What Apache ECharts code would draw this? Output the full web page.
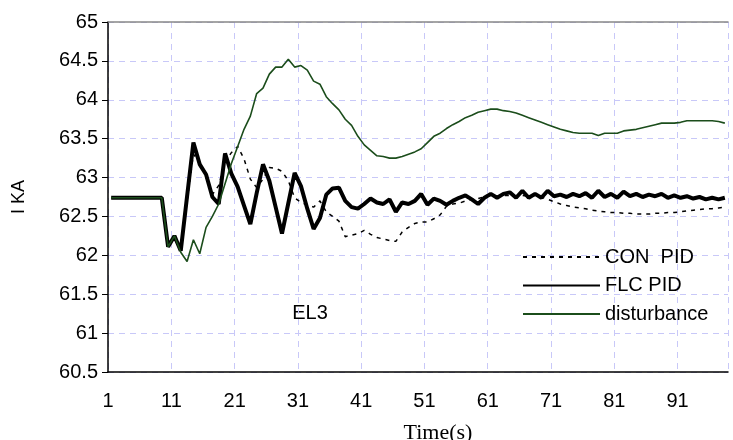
<!DOCTYPE html>
<html>
<head>
<meta charset="utf-8">
<script src="https://cdn.jsdelivr.net/npm/echarts@6/dist/echarts.min.js"></script>
<style>
  html, body { margin: 0; padding: 0; background: #fff; }
  #main { width: 733px; height: 440px; }
</style>
</head>
<body>
<div id="main"></div>
<script>
// time steps 1..98
var categories = [];
for (var t = 1; t <= 98; t++) categories.push(String(t));

var conPid = [
  62.74, 62.74, 62.74, 62.74, 62.74, 62.74, 62.74, 62.74, 62.74, 62.11,
  62.25, 62.06, 62.70, 63.30, 63.20, 63.00, 62.78, 62.90, 63.20, 63.32,
  63.40, 63.24, 62.98, 62.87, 62.98, 63.13, 63.12, 63.08, 62.96, 62.74,
  62.68, 62.65, 62.62, 62.70, 62.56, 62.50, 62.44, 62.24, 62.26, 62.28,
  62.32, 62.27, 62.23, 62.21, 62.19, 62.18, 62.30, 62.36, 62.41, 62.43,
  62.43, 62.47, 62.52, 62.63, 62.66, 62.67, 62.70, 62.72, 62.73, 62.75,
  62.77, 62.76, 62.77, 62.77, 62.76, 62.77, 62.76, 62.77, 62.75, 62.72,
  62.69, 62.66, 62.64, 62.62, 62.61, 62.60, 62.58, 62.57, 62.56, 62.55,
  62.55, 62.54, 62.54, 62.53, 62.53, 62.53, 62.54, 62.54, 62.55, 62.55,
  62.56, 62.57, 62.58, 62.59, 62.60, 62.60, 62.61, 62.62
];

var flcPid = [
  62.74, 62.74, 62.74, 62.74, 62.74, 62.74, 62.74, 62.74, 62.74, 62.11,
  62.25, 62.06, 62.76, 63.45, 63.17, 63.04, 62.75, 62.66, 63.31, 63.05,
  62.88, 62.64, 62.40, 62.80, 63.17, 62.96, 62.62, 62.28, 62.67, 63.06,
  62.89, 62.60, 62.34, 62.48, 62.78, 62.86, 62.87, 62.70, 62.62, 62.60,
  62.66, 62.73, 62.68, 62.66, 62.72, 62.56, 62.68, 62.66, 62.70, 62.79,
  62.65, 62.73, 62.70, 62.65, 62.70, 62.74, 62.77, 62.72, 62.66, 62.74,
  62.79, 62.74, 62.79, 62.81, 62.74, 62.83, 62.74, 62.79, 62.74, 62.83,
  62.76, 62.78, 62.75, 62.79, 62.76, 62.80, 62.74, 62.83, 62.75, 62.79,
  62.74, 62.82, 62.76, 62.79, 62.75, 62.78, 62.76, 62.79, 62.74, 62.77,
  62.74, 62.76, 62.73, 62.75, 62.72, 62.74, 62.72, 62.74
];

var disturbance = [
  62.74, 62.74, 62.74, 62.74, 62.74, 62.74, 62.74, 62.74, 62.74, 62.11,
  62.25, 62.04, 61.92, 62.20, 62.02, 62.36, 62.50, 62.66, 62.92, 63.18,
  63.40, 63.62, 63.79, 64.08, 64.15, 64.33, 64.42, 64.42, 64.52, 64.42,
  64.44, 64.38, 64.24, 64.20, 64.04, 63.95, 63.87, 63.75, 63.67, 63.53,
  63.42, 63.35, 63.28, 63.27, 63.25, 63.25, 63.27, 63.30, 63.33, 63.37,
  63.45, 63.53, 63.57, 63.63, 63.68, 63.72, 63.77, 63.80, 63.84, 63.86,
  63.88, 63.88, 63.86, 63.85, 63.83, 63.80, 63.77, 63.74, 63.71, 63.68,
  63.65, 63.62, 63.60, 63.58, 63.57, 63.57, 63.57, 63.54, 63.57, 63.57,
  63.57, 63.60, 63.61, 63.62, 63.64, 63.66, 63.68, 63.70, 63.70, 63.70,
  63.71, 63.73, 63.73, 63.73, 63.73, 63.73, 63.72, 63.70
];

var myChart = echarts.init(document.getElementById('main'), null, { renderer: 'canvas' });

var font = 'Liberation Sans, Arial, sans-serif';
var gridDash = { color: '#c8c8f8', width: 1, type: [6, 5] };

var option = {
  animation: false,
  backgroundColor: '#fff',
  textStyle: { fontFamily: font },
  grid: { left: 108, top: 22, right: 5, bottom: 68, outerBoundsMode: 'none' },
  legend: {
    orient: 'vertical',
    left: 517,
    top: 242,
    itemWidth: 77,
    itemHeight: 20,
    itemGap: 8.5,
    itemStyle: { opacity: 0 },
    textStyle: { fontSize: 20, color: '#000', fontFamily: font },
    data: ['CON  PID', 'FLC PID', 'disturbance']
  },
  xAxis: [
    {
      type: 'category',
      data: categories,
      boundaryGap: true,
      name: 'Time(s)',
      nameLocation: 'middle',
      nameGap: 50,
      nameTextStyle: {
        fontFamily: 'Liberation Serif, Times New Roman, serif',
        fontSize: 22,
        color: '#000',
        padding: [0, 0, 0, 40]
      },
      axisLine: { lineStyle: { color: '#000', width: 1.5 } },
      axisTick: { interval: 9, length: 6, lineStyle: { color: '#000' } },
      axisLabel: { interval: 9, fontSize: 20, color: '#000', margin: 19, padding: [0, 6, 0, 0] },
      splitLine: { show: true, interval: 9, lineStyle: gridDash }
    },
    {
      type: 'category',
      data: categories,
      position: 'top',
      axisLine: { lineStyle: { color: '#888', width: 1.5 } },
      axisTick: { show: false },
      axisLabel: { show: false },
      splitLine: { show: false }
    }
  ],
  yAxis: {
    type: 'value',
    min: 60.5,
    max: 65,
    interval: 0.5,
    name: 'I KA',
    nameLocation: 'middle',
    nameRotate: 90,
    nameGap: 80,
    nameTextStyle: { fontSize: 18, color: '#000' },
    axisLine: { show: true, lineStyle: { color: '#000', width: 1.5 } },
    axisTick: { show: true, length: 6, lineStyle: { color: '#000' } },
    axisLabel: { fontSize: 20, color: '#000', margin: 10 },
    splitLine: { show: true, lineStyle: gridDash }
  },
  graphic: [
    {
      type: 'text',
      x: 310,
      y: 313,
      style: { text: 'EL3', font: '20px Liberation Sans', fill: '#000', align: 'center', verticalAlign: 'middle' }
    }
  ],
  series: [
    {
      name: 'CON  PID',
      type: 'line',
      data: conPid,
      symbol: 'none',
      itemStyle: { color: '#000' },
      lineStyle: { color: '#000', width: 1.5, type: [4, 5] }
    },
    {
      name: 'FLC PID',
      type: 'line',
      data: flcPid,
      symbol: 'none',
      itemStyle: { color: '#000' },
      lineStyle: { color: '#000', width: 4 }
    },
    {
      name: 'disturbance',
      type: 'line',
      data: disturbance,
      symbol: 'none',
      itemStyle: { color: '#1b4d1b' },
      lineStyle: { color: '#1b4d1b', width: 1.6 }
    }
  ]
};

myChart.setOption(option);
</script>
</body>
</html>
